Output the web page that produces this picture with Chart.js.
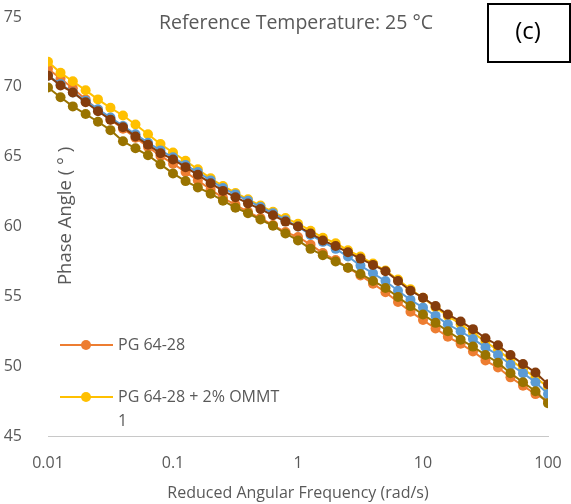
<!DOCTYPE html>
<html>
<head>
<meta charset="utf-8">
<script src="https://cdn.jsdelivr.net/npm/chart.js@4"></script>
<style>
  html, body { margin: 0; padding: 0; background: #fff; }
  #wrap { width: 571px; height: 504px; position: relative; }
</style>
</head>
<body>
<div id="wrap"><canvas id="phaseChart"></canvas></div>
<script>
// reduced angular frequency (rad/s), shared by all series
const freq = [0.01, 0.0126, 0.0158, 0.0200, 0.0251, 0.0316, 0.0398, 0.0501, 0.0631, 0.0794,
    0.1, 0.126, 0.158, 0.200, 0.251, 0.316, 0.398, 0.501, 0.631, 0.794,
    1, 1.26, 1.58, 2.00, 2.51, 3.16, 3.98, 5.01, 6.31, 7.94,
    10, 12.6, 15.8, 20.0, 25.1, 31.6, 39.8, 50.1, 63.1, 79.4, 100];

// phase angle (deg)
const pgBase = [71.3, 70.6, 69.9, 69.1, 68.35, 67.65, 67.0, 66.35, 65.7, 65.05,
    64.5, 63.9, 63.3, 62.65, 62.05, 61.55, 61.05, 60.6, 60.1, 59.6,
    59.25, 58.7, 58.1, 57.6, 57.05, 56.5, 55.9, 55.3, 54.6, 53.9,
    53.3, 52.7, 52.1, 51.6, 51.05, 50.4, 49.9, 49.2, 48.6, 48.0, 47.5];
const pgOmmt2 = [71.8, 71.0, 70.4, 69.75, 69.1, 68.5, 67.95, 67.3, 66.6, 65.9,
    65.3, 64.7, 64.1, 63.45, 62.9, 62.4, 61.95, 61.5, 61.05, 60.6,
    60.2, 59.7, 59.2, 58.8, 58.3, 57.85, 57.35, 56.85, 56.2, 55.5,
    54.9, 54.2, 53.6, 53.0, 52.4, 51.75, 51.15, 50.45, 49.8, 49.2, 48.5];
const seriesBlue = [70.8, 70.2, 69.6, 69.0, 68.4, 67.8, 67.2, 66.6, 66.0, 65.45,
    64.95, 64.4, 63.9, 63.3, 62.75, 62.3, 61.85, 61.4, 60.95, 60.45,
    60.0, 59.4, 58.9, 58.4, 57.85, 57.2, 56.65, 56.1, 55.4, 54.75,
    54.2, 53.6, 53.0, 52.5, 51.95, 51.35, 50.8, 50.1, 49.5, 48.85, 48.0];
const seriesBrown = [70.8, 70.1, 69.6, 68.9, 68.25, 67.65, 67.1, 66.45, 65.85, 65.25,
    64.8, 64.25, 63.7, 63.1, 62.55, 62.1, 61.65, 61.25, 60.8, 60.35,
    60.0, 59.5, 59.0, 58.6, 58.15, 57.7, 57.25, 56.8, 56.1, 55.4,
    54.9, 54.3, 53.7, 53.2, 52.65, 52.0, 51.5, 50.8, 50.15, 49.55, 48.7];
const seriesOlive = [69.95, 69.25, 68.6, 68.05, 67.5, 66.9, 66.1, 65.6, 65.1, 64.45,
    63.8, 63.25, 62.8, 62.35, 61.85, 61.35, 60.95, 60.5, 60.05, 59.5,
    59.0, 58.4, 57.95, 57.5, 57.05, 56.6, 56.1, 55.6, 54.95, 54.3,
    53.7, 53.1, 52.5, 51.9, 51.4, 50.8, 50.25, 49.5, 48.85, 48.2, 47.35];

const yTicks = [45, 50, 55, 60, 65, 70, 75];
const xTicks = [0.01, 0.1, 1, 10, 100];

const FONT = "'Open Sans', sans-serif";
const GREY = '#595959';

function toPoints(ys) {
    return freq.map((f, i) => ({ x: f, y: ys[i] }));
}

function series(label, ys, color, order) {
    return {
        label: label,
        data: toPoints(ys),
        showLine: true,
        borderColor: color,
        backgroundColor: color,
        borderWidth: 2,
        pointRadius: 5,
        pointBorderWidth: 0,
        pointHoverRadius: 5,
        order: order
    };
}

// titles, legend, y caption and the (c) box
const decorations = {
    id: 'decorations',
    afterDraw(chart) {
        const c = chart.ctx;
        c.save();
        c.fillStyle = GREY;
        c.textBaseline = 'middle';

        c.font = '19.5px ' + FONT;
        c.textAlign = 'center';
        c.fillText('Reference Temperature: 25 °C', 296, 23);

        // y caption sits inside the plot
        c.save();
        c.translate(66, 216);
        c.rotate(-Math.PI / 2);
        c.font = '18.5px ' + FONT;
        c.fillText('Phase Angle ( ° )', 0, 0);
        c.restore();

        // legend (two entries only)
        const entries = [
            { ds: 0, y: 345, lines: ['PG 64-28'] },
            { ds: 1, y: 397, lines: ['PG 64-28 + 2% OMMT', '1'] }
        ];
        entries.forEach(e => {
            const col = chart.data.datasets[e.ds].borderColor;
            c.strokeStyle = col;
            c.lineWidth = 2;
            c.beginPath();
            c.moveTo(60, e.y);
            c.lineTo(113, e.y);
            c.stroke();
            c.fillStyle = col;
            c.beginPath();
            c.arc(86, e.y, 5, 0, Math.PI * 2);
            c.fill();
            c.fillStyle = GREY;
            c.font = '16px ' + FONT;
            c.textAlign = 'left';
            e.lines.forEach((t, k) => c.fillText(t, 118, e.y + k * 24));
        });

        // (c) box
        c.strokeStyle = '#000';
        c.lineWidth = 2;
        c.strokeRect(488, 4, 82, 58);
        c.fillStyle = '#000';
        c.font = '24px ' + FONT;
        c.textAlign = 'center';
        c.fillText('(c)', 528, 32);
        c.restore();
    }
};

new Chart(document.getElementById('phaseChart'), {
    type: 'scatter',
    data: {
        datasets: [
            series('PG 64-28', pgBase, '#ED7D31', 4),
            series('PG 64-28 + 2% OMMT', pgOmmt2, '#FFC000', 3),
            series('Series 3', seriesBlue, '#5B9BD5', 2),
            series('Series 4', seriesBrown, '#843C0C', 0),
            series('Series 5', seriesOlive, '#997300', 1)
        ]
    },
    options: {
        responsive: true,
        maintainAspectRatio: false,
        animation: false,
        layout: { padding: { top: 17, right: 23, left: 0, bottom: 0 } },
        scales: {
            x: {
                type: 'logarithmic',
                min: 0.01,
                max: 100,
                afterFit: s => { s.height = 68; s.paddingLeft = 0; s.paddingRight = 0; },
                afterBuildTicks: s => { s.ticks = xTicks.map(v => ({ value: v })); },
                grid: { display: false },
                border: { display: true, color: '#C8C8C8', width: 1 },
                ticks: {
                    autoSkip: false,
                    maxRotation: 0,
                    padding: 10,
                    color: GREY,
                    font: { family: FONT, size: 16 },
                    callback: v => String(v)
                },
                title: {
                    display: true,
                    text: 'Reduced Angular Frequency (rad/s)',
                    color: GREY,
                    font: { family: FONT, size: 16 },
                    padding: { top: 0, bottom: 1 }
                }
            },
            y: {
                min: 45,
                max: 75,
                afterFit: s => { s.width = 48; s.paddingTop = 0; s.paddingBottom = 0; },
                afterBuildTicks: s => { s.ticks = yTicks.map(v => ({ value: v })); },
                grid: { display: false },
                border: { display: false },
                ticks: {
                    padding: 18,
                    color: GREY,
                    font: { family: FONT, size: 16 }
                }
            }
        },
        plugins: {
            legend: { display: false },
            tooltip: { enabled: false }
        }
    },
    plugins: [decorations]
});
</script>
</body>
</html>
